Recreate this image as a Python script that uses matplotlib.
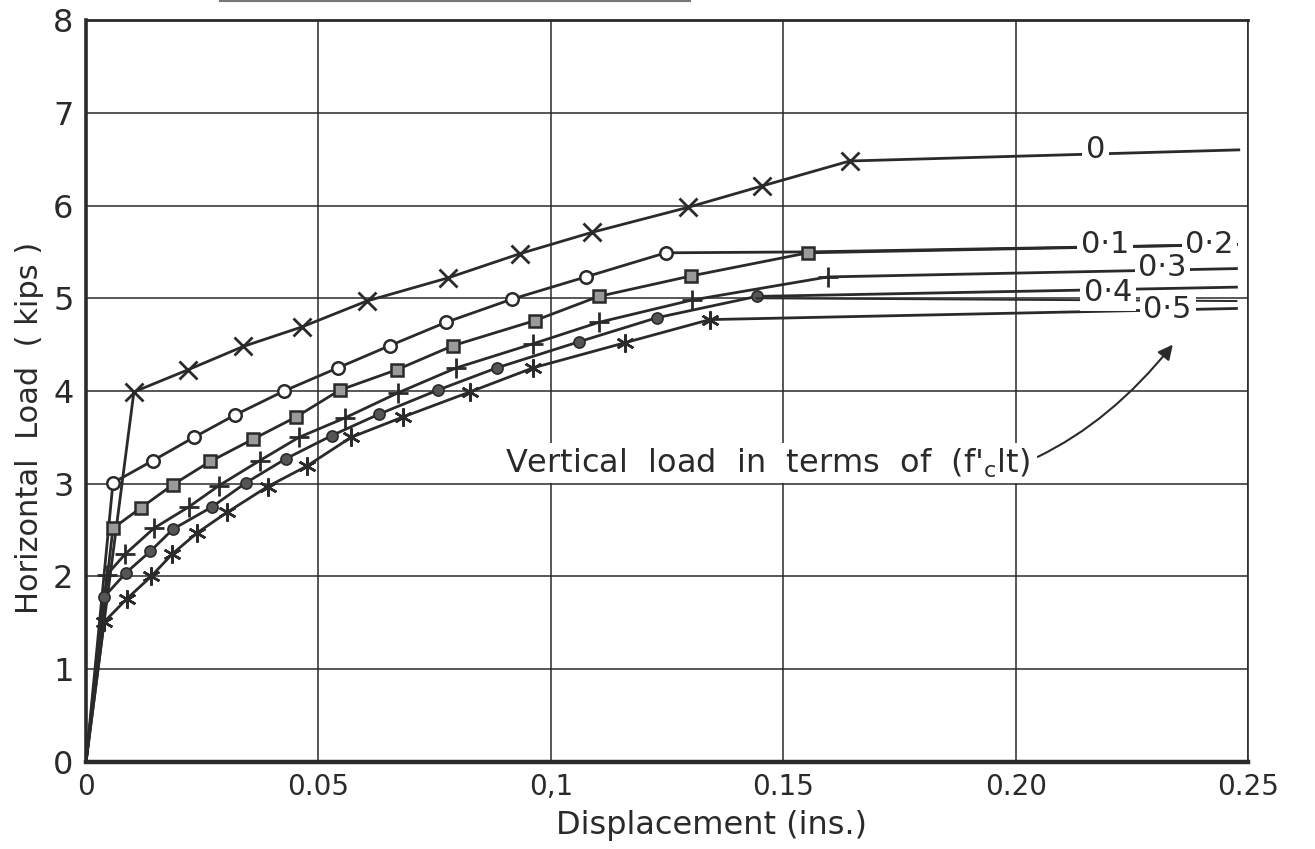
import matplotlib
matplotlib.use('Agg')
import matplotlib.pyplot as plt
from matplotlib.lines import Line2D

# 読み取ったデータ (変位 [in], 水平荷重 [kips])
x_0 = [0, 0.0103, 0.0220, 0.0338, 0.0464, 0.0604, 0.0779, 0.0933, 0.1088, 0.1295, 0.1454, 0.1643, 0.248]
y_0 = [0, 3.99, 4.23, 4.48, 4.69, 4.97, 5.22, 5.48, 5.71, 5.98, 6.21, 6.48, 6.60]

x_01 = [0, 0.0058, 0.0144, 0.0232, 0.0320, 0.0426, 0.0542, 0.0654, 0.0774, 0.0916, 0.1075, 0.1247, 0.1553, 0.2475]
y_01 = [0, 3.01, 3.25, 3.50, 3.74, 4.00, 4.25, 4.49, 4.74, 4.99, 5.23, 5.49, 5.50, 5.58]

x_02 = [0, 0.0058, 0.0118, 0.0187, 0.0267, 0.0359, 0.0452, 0.0546, 0.0669, 0.0790, 0.0966, 0.1103, 0.1301, 0.1553, 0.2475]
y_02 = [0, 2.52, 2.74, 2.99, 3.24, 3.48, 3.72, 4.01, 4.23, 4.49, 4.76, 5.02, 5.24, 5.49, 5.58]

x_03 = [0, 0.0045, 0.0084, 0.0146, 0.0221, 0.0286, 0.0374, 0.0458, 0.0557, 0.0671, 0.0797, 0.0962, 0.1103, 0.1303, 0.1596, 0.2475]
y_03 = [0, 2.02, 2.24, 2.52, 2.75, 2.98, 3.25, 3.50, 3.71, 3.98, 4.25, 4.51, 4.74, 4.98, 5.23, 5.32]

x_04 = [0, 0.0039, 0.0086, 0.0138, 0.0187, 0.0271, 0.0344, 0.0430, 0.0529, 0.0630, 0.0757, 0.0884, 0.1060, 0.1228, 0.1443, 0.2475]
y_04 = [0, 1.78, 2.04, 2.27, 2.51, 2.75, 3.01, 3.27, 3.52, 3.75, 4.01, 4.25, 4.53, 4.79, 5.02, 5.12]
# 0.4 の終点から出ている細い線
x_04b = [0.1443, 0.2475]
y_04b = [5.00, 4.97]

x_05 = [0, 0.0039, 0.0088, 0.0140, 0.0185, 0.0239, 0.0303, 0.0391, 0.0475, 0.0570, 0.0682, 0.0826, 0.0962, 0.1159, 0.1342, 0.2475]
y_05 = [0, 1.51, 1.76, 2.00, 2.24, 2.47, 2.69, 2.97, 3.19, 3.50, 3.72, 3.99, 4.25, 4.52, 4.77, 4.89]

xticks = [0, 0.05, 0.1, 0.15, 0.20, 0.25]
xticklabels = ['0', '0.05', '0,1', '0.15', '0.20', '0.25']
yticks = [0, 1, 2, 3, 4, 5, 6, 7, 8]

curve_labels = ['0', '0·1', '0·2', '0·3', '0·4', '0·5']
label_x = [0.2172, 0.2192, 0.2417, 0.2316, 0.2198, 0.2327]
label_y = [6.60, 5.58, 5.58, 5.33, 5.06, 4.88]

ink = '#2a2a2a'
plt.rcParams['font.family'] = ['DejaVu Sans']

fig = plt.figure(figsize=(13.15, 8.49), dpi=100)
ax = fig.add_axes([0.0654, 0.1025, 0.8837, 0.8739])

ax.grid(True, color=ink, linewidth=1.1)
ax.set_axisbelow(True)

lw = 2.0
ms_kw = dict(color=ink, linewidth=lw, markeredgecolor=ink)
# 最後の点 (右端) にはマーカーを付けない
ax.plot(x_0, y_0, marker='x', markersize=13, markeredgewidth=2.0, markevery=list(range(1, len(x_0) - 1)), **ms_kw)
ax.plot(x_01, y_01, marker='o', markersize=9, markerfacecolor='white', markeredgewidth=1.8,
        markevery=list(range(1, len(x_01) - 2)), **ms_kw)
ax.plot(x_02, y_02, marker='s', markersize=9, markerfacecolor='#9a9a9a', markeredgewidth=1.8,
        markevery=list(range(1, len(x_02) - 1)), **ms_kw)
ax.plot(x_03, y_03, marker='+', markersize=15, markeredgewidth=2.0, markevery=list(range(1, len(x_03) - 1)), **ms_kw)
ax.plot(x_04, y_04, marker='o', markersize=8, markerfacecolor='#555555', markeredgewidth=1.2,
        markevery=list(range(1, len(x_04) - 1)), **ms_kw)
ax.plot(x_04b, y_04b, color=ink, linewidth=1.4)
ax.plot(x_05, y_05, marker=(6, 2, 0), markersize=13, markeredgewidth=1.8, markevery=list(range(1, len(x_05) - 1)), **ms_kw)

# 曲線ラベル
for lab, lx, ly in zip(curve_labels, label_x, label_y):
    ax.text(lx, ly, lab, fontsize=22, color=ink, ha='center', va='center', zorder=5,
            bbox=dict(boxstyle='square,pad=0.12', facecolor='white', edgecolor='none'))

ax.annotate(r"Vertical  load  in  terms  of  (f$'_{\mathrm{c}}$lt)", xy=(0.2338, 4.50), xytext=(0.2030, 3.22),
            fontsize=23, color=ink, ha='right', va='center',
            bbox=dict(boxstyle='square,pad=0.1', facecolor='white', edgecolor='none'),
            arrowprops=dict(arrowstyle='-|>', color=ink, linewidth=1.5, mutation_scale=22,
                            connectionstyle='arc3,rad=0.35', shrinkA=4, shrinkB=0))

ax.set_xlim(0, 0.25)
ax.set_ylim(0, 8)
ax.set_xticks(xticks)
ax.set_xticklabels(xticklabels)
ax.set_yticks(yticks)
ax.tick_params(axis='x', length=0, pad=8, labelsize=20, labelcolor=ink)
ax.tick_params(axis='y', length=0, pad=9, labelsize=23, labelcolor=ink)

ax.set_xlabel('Displacement (ins.)', fontsize=23, color=ink)
ax.xaxis.set_label_coords(0.538, -0.065)
ax.set_ylabel('Horizontal  Load  ( kips )', fontsize=22, color=ink)
ax.yaxis.set_label_coords(-0.036, 0.45)

for side, w in [('left', 2.6), ('bottom', 3.2), ('top', 2.0), ('right', 1.2)]:
    ax.spines[side].set_linewidth(w)
    ax.spines[side].set_color(ink)

# 上端の切れたタイトル下線
fig.add_artist(Line2D([220 / 1315, 690 / 1315], [0.9985, 0.9985], color='#777777', linewidth=1.5))

plt.savefig('out.png', dpi=100)
